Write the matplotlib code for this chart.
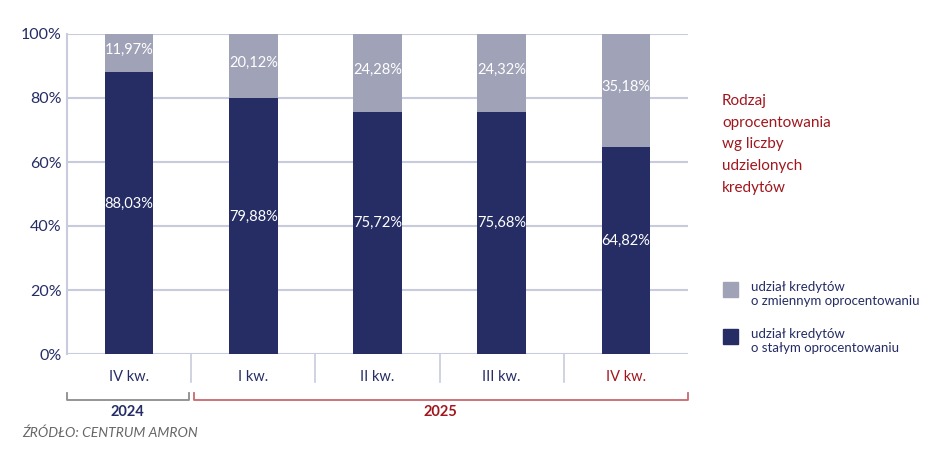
import matplotlib
matplotlib.use("Agg")
import matplotlib.pyplot as plt
from matplotlib.patches import Rectangle
from matplotlib.lines import Line2D

plt.rcParams['font.family'] = ['Lato', 'DejaVu Sans']

categories = ["IV kw.", "I kw.", "II kw.", "III kw.", "IV kw."]
fixed = [88.03, 79.88, 75.72, 75.68, 64.82]
variable = [11.97, 20.12, 24.28, 24.32, 35.18]
fixed_labels = ["88,03%", "79,88%", "75,72%", "75,68%", "64,82%"]
variable_labels = ["11,97%", "20,12%", "24,28%", "24,32%", "35,18%"]
yticks = [0, 20, 40, 60, 80, 100]
ytick_labels = ["0%", "20%", "40%", "60%", "80%", "100%"]
years = ["2024", "2025"]
year_spans = [(0, 1), (1, 5)]

DARK = "#252d64"
LIGHT = "#a0a2b8"
GRID = "#c7cbdd"
RED = "#a0171e"
BRACKET_GRAY = "#8c8c8c"
BRACKET_RED = "#c8696e"

fig = plt.figure(figsize=(9.48, 4.54), dpi=100)
ax = fig.add_axes([67/948, 100/454, 621/948, 320/454])
x = list(range(len(categories)))
w = 0.39
ax.bar(x, fixed, width=w, color=DARK, zorder=3)
ax.bar(x, variable, width=w, bottom=fixed, color=LIGHT, zorder=3)
for i in x:
    ax.text(i, fixed[i] / 2 + 3, fixed_labels[i], ha='center', va='center',
            color='white', fontsize=10.5, zorder=4)
    ax.text(i, fixed[i] + variable[i] / 2 + 1, variable_labels[i], ha='center',
            va='center', color='white', fontsize=10.5, zorder=4)

ax.set_xlim(-0.5, len(categories) - 0.5)
ax.set_ylim(0, 100)
ax.set_yticks(yticks)
ax.set_yticklabels(ytick_labels, color=DARK, fontsize=11.5)
ax.tick_params(axis='y', length=0, pad=4)
ax.set_xticks([])
for yv in yticks:
    ax.axhline(yv, color=GRID, lw=1.5, zorder=1)
for s in ['top', 'right', 'bottom']:
    ax.spines[s].set_visible(False)
ax.spines['left'].set_color(GRID)
ax.spines['left'].set_linewidth(1.5)

# category labels and separators
trans = ax.get_xaxis_transform()
for i, c in enumerate(categories):
    ax.text(i, -0.072, c, transform=trans, ha='center', va='center',
            fontsize=10.5, color=(RED if i == len(categories) - 1 else DARK))
for i in range(1, len(categories)):
    ax.add_line(Line2D([i - 0.5, i - 0.5], [0, -0.088], transform=trans,
                       color=GRID, lw=1.2, clip_on=False))

# year brackets
by = -0.143
for (a, b), yr, col, tcol in zip(year_spans, years, [BRACKET_GRAY, BRACKET_RED], [DARK, RED]):
    x0 = a - 0.5 + (0.02 if a > 0 else 0)
    x1 = b - 0.5 - (0.02 if b < len(categories) else 0)
    ax.add_line(Line2D([x0, x0, x1, x1], [by + 0.022, by, by, by + 0.022],
                       transform=trans, color=col, lw=1.3, clip_on=False))
    ax.text((x0 + x1) / 2, by - 0.037, yr, transform=trans, ha='center',
            va='center', fontsize=10.5, fontweight='bold', color=tcol)

fig.text(22/948, 1 - 433/454, "ŹRÓDŁO: CENTRUM AMRON", fontsize=10,
         style='italic', color='#666666', ha='left', va='center')

# title
fig.text(722/948, 1 - 94/454, "Rodzaj\noprocentowania\nwg liczby\nudzielonych\nkredytów",
         fontsize=11, color=RED, ha='left', va='top', linespacing=1.7)

# legend
legend_items = [(LIGHT, "udział kredytów\no zmiennym oprocentowaniu", 289),
                (DARK, "udział kredytów\no stałym oprocentowaniu", 336)]
for col, lab, yc in legend_items:
    fig.patches.append(Rectangle((723/948, 1 - (yc + 8)/454), 15/948, 15/454,
                                 transform=fig.transFigure, color=col))
    fig.text(751/948, 1 - (yc + 5)/454, lab, fontsize=9.5, color=DARK,
             ha='left', va='center', linespacing=1.25)

fig.savefig("out.png", dpi=100)
